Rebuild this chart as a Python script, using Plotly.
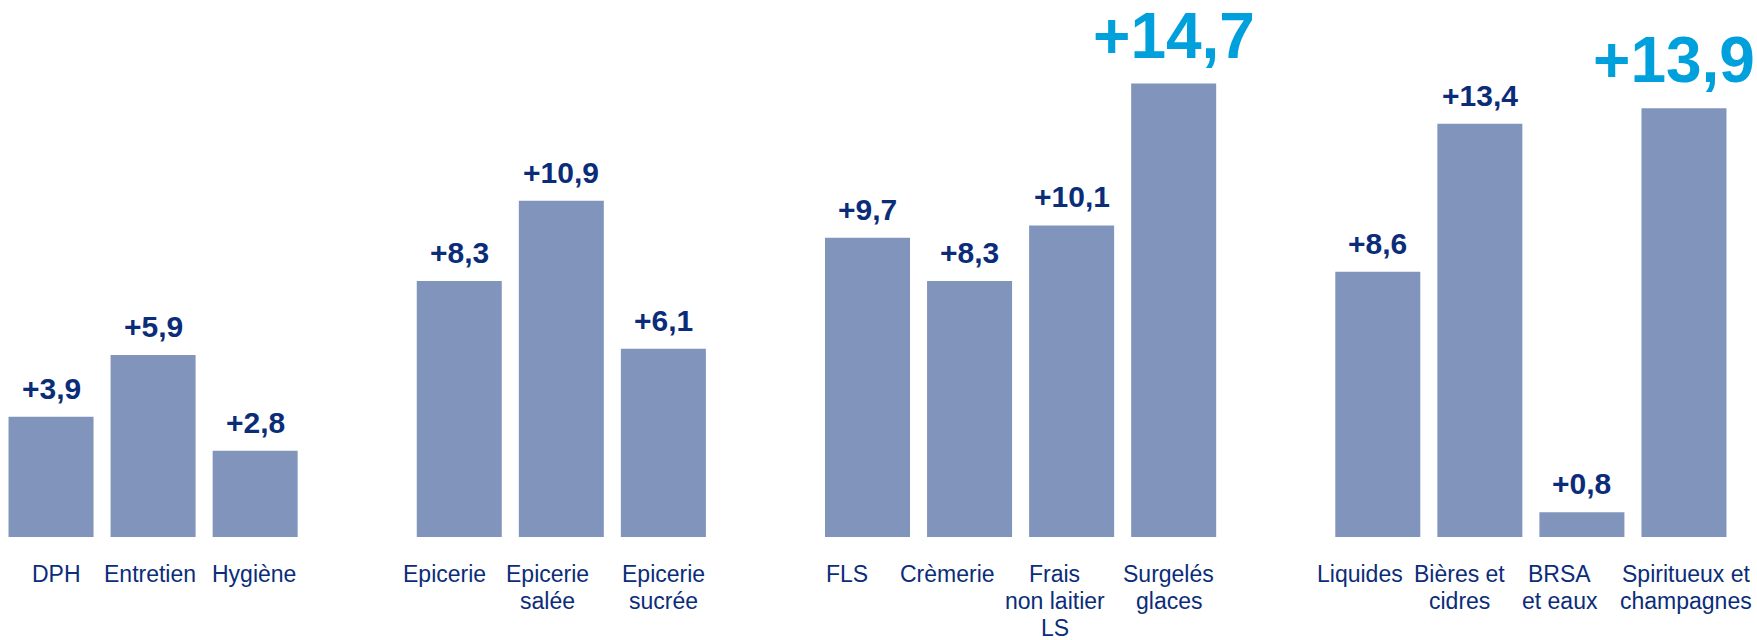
import plotly.graph_objects as go

categories = ["DPH", "Entretien", "Hygiène",
              "Epicerie", "Epicerie<br>salée", "Epicerie<br>sucrée",
              "FLS", "Crèmerie", "Frais<br>non laitier<br>LS", "Surgelés<br>glaces",
              "Liquides", "Bières et<br>cidres", "BRSA<br>et eaux", "Spiritueux et<br>champagnes"]
groups = [0, 0, 0, 1, 1, 1, 2, 2, 2, 2, 3, 3, 3, 3]
values = [3.9, 5.9, 2.8, 8.3, 10.9, 6.1, 9.7, 8.3, 10.1, 14.7, 8.6, 13.4, 0.8, 13.9]
highlight = [False, False, False, False, False, False, False, False, False, True,
             False, False, False, True]

BAR = "#8195BC"
NAVY = "#0B2D79"
CYAN = "#00A0DC"
FONT = "Liberation Sans, Arial, sans-serif"

# horizontal nudges (px) of the category text boxes, as placed in the original slide
label_dx = [5, -3, -1, -15, -14, 0, -21, -22, -17, -5, -18, -20, -22, 2]

# one empty slot between groups
xpos = [i + g for i, g in enumerate(groups)]
labels = ["+" + f"{v:.1f}".replace(".", ",") for v in values]

fig = go.Figure()
fig.add_trace(go.Bar(x=xpos, y=values, marker=dict(color=BAR, line=dict(width=0)),
                     hoverinfo="skip"))

n = len(values)
for i, (x, v, t, h) in enumerate(zip(xpos, values, labels, highlight)):
    fig.add_annotation(x=x, y=v, xref="x", yref="y", text=f"<b>{t}</b>",
                       showarrow=False, yanchor="bottom", yshift=10,
                       xshift=-10 if i == n - 1 else 0,
                       font=dict(family=FONT, size=64 if h else 30,
                                 color=CYAN if h else NAVY))

# category labels, one annotation per line for tight line spacing
for x, cat, dx in zip(xpos, categories, label_dx):
    for k, line in enumerate(cat.split("<br>")):
        fig.add_annotation(x=x, y=0, xref="x", yref="y", text=line,
                           showarrow=False, yanchor="middle", xanchor="center",
                           yshift=-37 - 27 * k, xshift=dx, borderpad=0,
                           font=dict(family=FONT, size=23, color=NAVY))

fig.update_layout(
    width=1757, height=640,
    margin=dict(l=0, r=22, t=0, b=103, autoexpand=False),
    paper_bgcolor="white", plot_bgcolor="white",
    bargap=0.167, showlegend=False,
    font=dict(family=FONT, color=NAVY),
)
fig.update_xaxes(range=[-0.5, 16.5], showticklabels=False,
                 showgrid=False, zeroline=False, showline=False, ticks="")
fig.update_yaxes(range=[0, 17.41], visible=False, showgrid=False, zeroline=False)

fig.write_html("out.html", config={"displayModeBar": False},
               post_script="document.body.style.margin='0';")
